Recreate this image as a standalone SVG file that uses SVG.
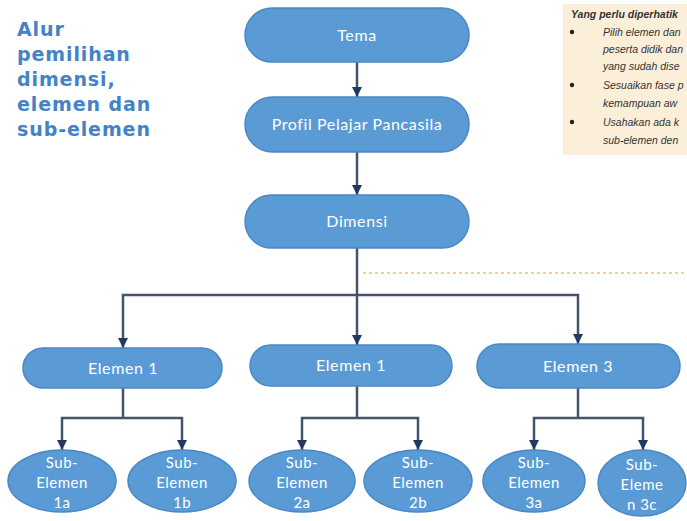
<svg xmlns="http://www.w3.org/2000/svg" width="687" height="521" viewBox="0 0 687 521">
<defs>
<style>
.node{fill:#5b9bd5;stroke:#4a88c4;stroke-width:1.5}
.lbl{font-family:Lato,"Liberation Sans",sans-serif;font-size:16px;letter-spacing:0.6px;fill:#ffffff;text-anchor:middle}
.sub{font-family:Lato,"Liberation Sans",sans-serif;font-size:15px;letter-spacing:0.5px;fill:#ffffff;text-anchor:middle}
.conn{fill:none;stroke:#44546a;stroke-width:2.5}
.title{font-family:"DejaVu Sans","Liberation Sans",sans-serif;font-weight:bold;font-size:19px;fill:#4382c6;letter-spacing:0.9px}
.note{font-family:"Liberation Sans",sans-serif;font-style:italic;font-size:10.5px;fill:#333333}
</style>
<marker id="arr" markerUnits="userSpaceOnUse" markerWidth="10" markerHeight="10" viewBox="0 0 10 10" refX="10" refY="5" orient="auto">
<path d="M0,0 L10,5 L0,10 Z" fill="#1f3864"/>
</marker>
</defs>
<rect width="687" height="521" fill="#ffffff"/>

<g id="title">
<text class="title" x="17" y="36">Alur</text>
<text class="title" x="17" y="61">pemilihan</text>
<text class="title" x="17" y="86">dimensi,</text>
<text class="title" x="17" y="111">elemen dan</text>
<text class="title" x="17" y="136">sub-elemen</text>
</g>

<g id="note">
<rect x="563" y="4" width="130" height="151" fill="#fcefd9"/>
<text class="note" x="571" y="18" font-weight="bold">Yang perlu diperhatik</text>
<circle cx="572" cy="32" r="2.2" fill="#222"/>
<text class="note" x="603" y="36">Pilih elemen dan</text>
<text class="note" x="603" y="53">peserta didik dan</text>
<text class="note" x="603" y="70">yang sudah dise</text>
<circle cx="572" cy="85" r="2.2" fill="#222"/>
<text class="note" x="603" y="89">Sesuaikan fase p</text>
<text class="note" x="603" y="107">kemampuan aw</text>
<circle cx="572" cy="122" r="2.2" fill="#222"/>
<text class="note" x="603" y="126">Usahakan ada k</text>
<text class="note" x="603" y="144">sub-elemen den</text>
</g>

<line x1="363" y1="273" x2="687" y2="273" stroke="#f0c36a" stroke-width="1.5" stroke-dasharray="3 3"/>

<g id="connectors">
<path class="conn" d="M357,62 V97" marker-end="url(#arr)"/>
<path class="conn" d="M357,152 V195" marker-end="url(#arr)"/>
<path class="conn" d="M357,248 V345" marker-end="url(#arr)"/>
<path class="conn" d="M357,295 H123 V348" marker-end="url(#arr)"/>
<path class="conn" d="M357,295 H578 V344" marker-end="url(#arr)"/>
<path class="conn" d="M123,388 V418"/>
<path class="conn" d="M123,418 H62 V450" marker-end="url(#arr)"/>
<path class="conn" d="M123,418 H182 V450" marker-end="url(#arr)"/>
<path class="conn" d="M357,386 V418"/>
<path class="conn" d="M357,418 H302 V450" marker-end="url(#arr)"/>
<path class="conn" d="M357,418 H418 V450" marker-end="url(#arr)"/>
<path class="conn" d="M578,388 V418"/>
<path class="conn" d="M578,418 H534 V450" marker-end="url(#arr)"/>
<path class="conn" d="M578,418 H643 V450" marker-end="url(#arr)"/>
</g>

<g id="tema">
<rect class="node" x="245" y="8" width="224" height="54" rx="27"/>
<text class="lbl" x="357" y="41">Tema</text>
</g>
<g id="profil">
<rect class="node" x="245" y="97" width="224" height="55" rx="27.5"/>
<text class="lbl" x="357" y="130">Profil Pelajar Pancasila</text>
</g>
<g id="dimensi">
<rect class="node" x="245" y="195" width="224" height="53" rx="26.5"/>
<text class="lbl" x="357" y="227">Dimensi</text>
</g>

<g id="elemen1a">
<rect class="node" x="23" y="348" width="199" height="40" rx="20"/>
<text class="lbl" x="123" y="374">Elemen 1</text>
</g>
<g id="elemen1b">
<rect class="node" x="250" y="345" width="202" height="41" rx="20.5"/>
<text class="lbl" x="351" y="371">Elemen 1</text>
</g>
<g id="elemen3">
<rect class="node" x="477" y="344" width="203" height="44" rx="22"/>
<text class="lbl" x="578" y="372">Elemen 3</text>
</g>

<g id="sub1a">
<ellipse class="node" cx="62" cy="481" rx="54" ry="31"/>
<text class="sub" x="62" y="468">Sub-</text><text class="sub" x="62" y="488">Elemen</text><text class="sub" x="62" y="508">1a</text>
</g>
<g id="sub1b">
<ellipse class="node" cx="182" cy="481" rx="54" ry="31"/>
<text class="sub" x="182" y="468">Sub-</text><text class="sub" x="182" y="488">Elemen</text><text class="sub" x="182" y="508">1b</text>
</g>
<g id="sub2a">
<ellipse class="node" cx="302" cy="481" rx="53" ry="31"/>
<text class="sub" x="302" y="468">Sub-</text><text class="sub" x="302" y="488">Elemen</text><text class="sub" x="302" y="508">2a</text>
</g>
<g id="sub2b">
<ellipse class="node" cx="418" cy="481" rx="54" ry="31"/>
<text class="sub" x="418" y="468">Sub-</text><text class="sub" x="418" y="488">Elemen</text><text class="sub" x="418" y="508">2b</text>
</g>
<g id="sub3a">
<ellipse class="node" cx="534" cy="481" rx="51" ry="31"/>
<text class="sub" x="534" y="468">Sub-</text><text class="sub" x="534" y="488">Elemen</text><text class="sub" x="534" y="508">3a</text>
</g>
<g id="sub3c">
<ellipse class="node" cx="642" cy="483" rx="44" ry="33"/>
<text class="sub" x="642" y="470">Sub-</text><text class="sub" x="642" y="490">Eleme</text><text class="sub" x="642" y="510">n 3c</text>
</g>
</svg>
